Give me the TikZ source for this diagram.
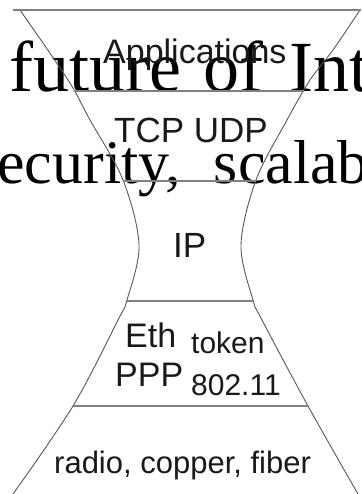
\documentclass[tikz,border=0pt]{standalone}
\usepackage{fontspec}
\setmainfont{Liberation Serif}
\setsansfont{Liberation Sans}
\begin{document}
\begin{tikzpicture}[x=1pt,y=-1pt,
  side/.style={draw=black!65, line width=0.9pt},
  layer/.style={draw=black!50, line width=1.4pt},
  label/.style={inner sep=0pt, anchor=base west, text=black!90, font=\sffamily},
  title/.style={inner sep=0pt, anchor=base west, text=black}]
\useasboundingbox (0,0) rectangle (361,494);
\clip (0,0) rectangle (361,494);
\fill[white] (0,0) rectangle (361,494);

% heading text running behind the hourglass
\node[title, font={\fontsize{72}{80}\selectfont}] (head1) at (9,92)
  {future\hspace{22pt}of\hspace{26pt}Internet};
\node[title, font={\fontsize{62}{70}\selectfont}] (head2) at (-27,183)
  {security,\hspace{33pt}scalability};

% hourglass outline
\draw[side] plot[smooth, tension=0.55] coordinates
  {(20,10) (68,80) (90,120) (123,180) (139,245) (127,300) (118,320) (73,406) (13,494)};
\draw[side] plot[smooth, tension=0.55] coordinates
  {(360,10) (333,50) (310,80) (287,120) (256,180) (241,245) (253,300) (262,320) (308,406) (358,494)};

% layer separators
\coordinate (t0l) at (13,10);   \coordinate (t0r) at (361,10);
\coordinate (t1l) at (74,91);   \coordinate (t1r) at (304,91);
\coordinate (t2l) at (123,181); \coordinate (t2r) at (256,181);
\coordinate (t3l) at (127,301); \coordinate (t3r) at (253,301);
\coordinate (t4l) at (73,406);  \coordinate (t4r) at (308,406);
\draw[layer] (t0l) -- (t0r);
\draw[layer] (t1l) -- (t1r);
\draw[layer] (t2l) -- (t2r);
\draw[layer] (t3l) -- (t3r);
\draw[layer] (t4l) -- (t4r);

% layer labels
\node[label, font={\sffamily\fontsize{34}{40}\selectfont}] (app) at (103,64) {Applications};
\node[label, font={\sffamily\fontsize{35}{40}\selectfont}] (tcp) at (114,143) {TCP UDP};
\node[label, font={\sffamily\fontsize{35}{40}\selectfont}] (ip) at (173,257) {IP};
\node[label, font={\sffamily\fontsize{34}{40}\selectfont}] (eth) at (125,347) {Eth};
\node[label, font={\sffamily\fontsize{34}{40}\selectfont}] (ppp) at (115,386) {PPP};
\node[label, font={\sffamily\fontsize{30}{36}\selectfont}] (tok) at (191,353) {token};
\node[label, font={\sffamily\fontsize{30}{36}\selectfont}] (wifi) at (191,395) {802.11};
\node[label, font={\sffamily\fontsize{31}{36}\selectfont}] (phy) at (54,473) {radio, copper, fiber};
\end{tikzpicture}
\end{document}
